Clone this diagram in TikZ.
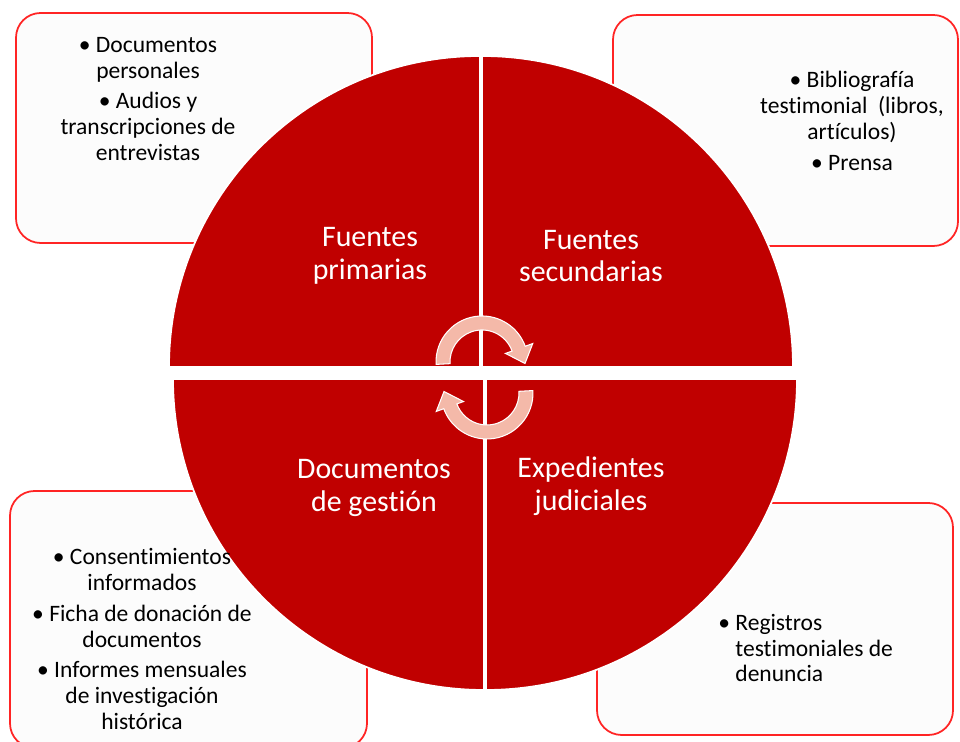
\documentclass[tikz,border=0pt]{standalone}
\usepackage{fontspec}
\setmainfont{Carlito}[Ligatures=NoCommon]
\usetikzlibrary{positioning}
\definecolor{darkred}{HTML}{C00000}
\definecolor{boxred}{HTML}{FF2424}
\definecolor{salmon}{HTML}{F4B9A9}
\tikzset{
  infobox/.style={draw=boxred, line width=1pt, fill=white!99!black, rounded corners=14pt},
  quarter/.style={fill=darkred, draw=white, line width=1pt},
  boxtext/.style={text=black, align=center, inner sep=0pt, font=\fontsize{13.4}{14.7}\selectfont},
  quartertext/.style={text=white, align=center, inner sep=0pt, font=\fontsize{17}{18.7}\selectfont},
  cycarrow/.style={fill=salmon, draw=white, line width=0.6pt}
}
\begin{document}
\begin{tikzpicture}[x=0.02cm,y=0.02cm]
            \useasboundingbox (0,0) rectangle (960,742);
            \def\R{311}
            \def\cycpath{(183:46) arc[start angle=183,end angle=20,radius=46] -- (20:54) -- (43,-1.5) -- (20:25) -- (20:32) arc[start angle=20,end angle=183,radius=32] -- cycle}

            % cajas
            \draw[infobox] (16,499) rectangle (372,729);
            \draw[infobox] (613,496) rectangle (958,727);
            \draw[infobox] (10,-6) rectangle (367,251);
            \draw[infobox] (597,7) rectangle (953,239);

            % circulo
            \draw[quarter] (480,375) -- ++(-\R,0) arc[start angle=180,end angle=90,radius=\R] -- cycle;
            \draw[quarter] (482,375) -- ++(0,\R) arc[start angle=90,end angle=0,radius=\R] -- cycle;
            \draw[quarter] (484,363) -- ++(0,-\R) arc[start angle=270,end angle=180,radius=\R] -- cycle;
            \draw[quarter] (486,363) -- ++(\R,0) arc[start angle=0,end angle=-90,radius=\R] -- cycle;

            \filldraw[cycarrow, shift={(482,380)}] \cycpath;
            \filldraw[cycarrow, shift={(487,349)}, rotate=180] \cycpath;

            \node[quartertext] (prim) at (370,486) {Fuentes\\primarias};
            \node[quartertext] (sec) at (591,486) {Fuentes\\secundarias};
            \node[quartertext] (gest) at (374,254) {Documentos\\de gestión};
            \node[quartertext] (jud) at (591,256) {Expedientes\\judiciales};

            \node[boxtext] (primlist) at (148,643) {\textbullet\ Documentos\\personales\\[2.8pt]\textbullet\ Audios y\\transcripciones de\\entrevistas};
            \node[boxtext] (seclist) at (852,621) {\textbullet\ Bibliografía\\testimonial\ \ (libros,\\artículos)\\[2.8pt]\textbullet\ Prensa};
            \node[boxtext] (gestlist) at (142,103) {\textbullet\ Consentimientos\\informados\\[2.8pt]\textbullet\ Ficha de donación de\\documentos\\[2.8pt]\textbullet\ Informes mensuales\\de investigación\\histórica};
            \node[boxtext, align=left, anchor=west] (judlist) at (718,94) {\textbullet\ Registros\\\hphantom{\textbullet\ }testimoniales de\\\hphantom{\textbullet\ }denuncia};
        \end{tikzpicture}
\end{document}
